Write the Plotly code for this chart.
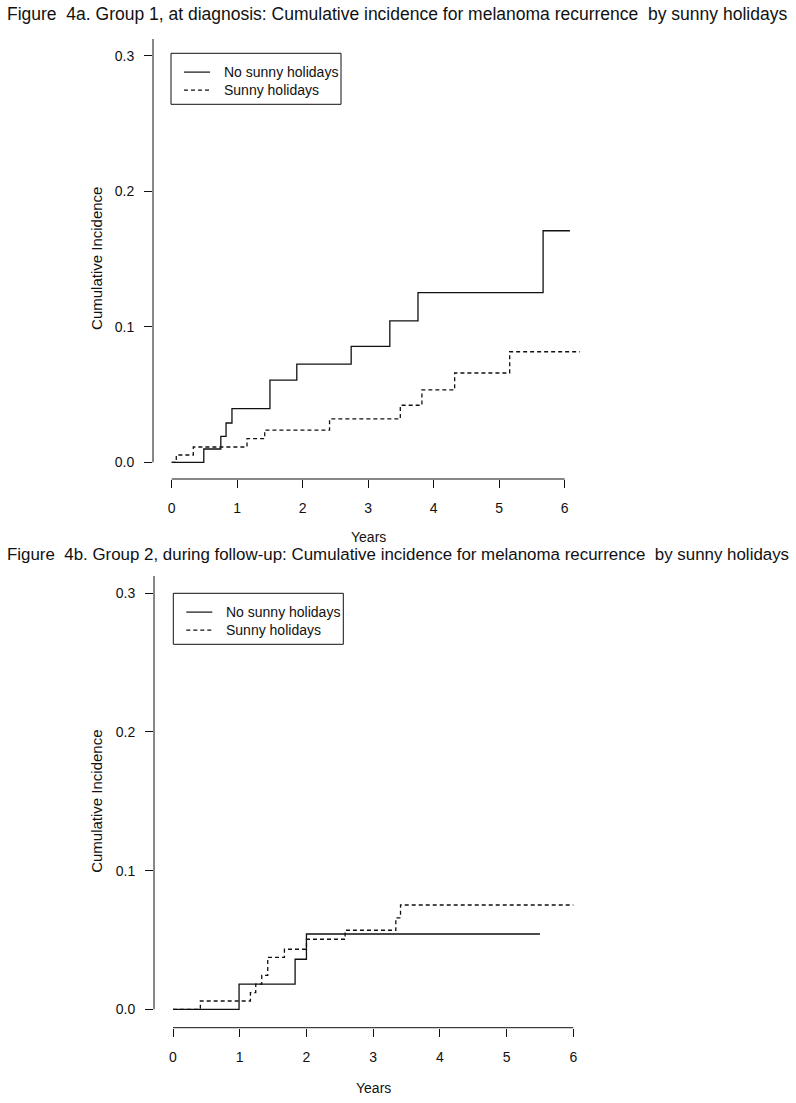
import plotly.graph_objects as go

# ---------------- data ----------------
years_ticks = [0, 1, 2, 3, 4, 5, 6]
ci_ticks = [0.0, 0.1, 0.2, 0.3]
ci_tick_labels = ["0.0", "0.1", "0.2", "0.3"]

series_names = ["No sunny holidays", "Sunny holidays"]
series_dash = ["solid", "4px,3px"]

# Figure 4a (Group 1, at diagnosis)
a_no_t = [0, 0.49, 0.75, 0.83, 0.92, 1.50, 1.91, 2.74, 3.33, 3.76, 5.67, 6.08]
a_no_v = [0, 0.0098, 0.0192, 0.0290, 0.0396, 0.0607, 0.0725, 0.0856, 0.1043, 0.1252, 0.1709, 0.1709]
a_sun_t = [0, 0.07, 0.33, 1.15, 1.42, 2.41, 3.49, 3.82, 4.32, 5.16, 6.23]
a_sun_v = [0, 0.0054, 0.0113, 0.0174, 0.0238, 0.0320, 0.0421, 0.0534, 0.0659, 0.0816, 0.0816]

# Figure 4b (Group 2, during follow-up)
b_no_t = [0, 0.99, 1.83, 2.00, 5.50]
b_no_v = [0, 0.0182, 0.0361, 0.0543, 0.0543]
b_sun_t = [0, 0.41, 1.16, 1.24, 1.33, 1.42, 1.67, 2.00, 2.58, 3.34, 3.41, 6.00]
b_sun_v = [0, 0.0060, 0.0120, 0.0182, 0.0245, 0.0375, 0.0433, 0.0505, 0.0570, 0.0660, 0.0752, 0.0752]

titles = [
    "Figure  4a. Group 1, at diagnosis: Cumulative incidence for melanoma recurrence  by sunny holidays",
    "Figure  4b. Group 2, during follow-up: Cumulative incidence for melanoma recurrence  by sunny holidays",
]
x_title = "Years"
y_title = "Cumulative Incidence"

# ---------------- layout helpers ----------------
W, H = 796, 1103
FONT = "Liberation Sans, Arial, sans-serif"
INK = "#111111"


def px_x(p):
    return p / W


def px_y(p):
    return 1 - p / H


def xrange_from(px0, px1, origin, scale):
    return [(px0 - origin) / scale, (px1 - origin) / scale]


def yrange_from(top_px, bot_px, origin, scale):
    return [(origin - bot_px) / scale, (origin - top_px) / scale]


panels = [
    dict(xdom=(153, 596), ydom=(38.9, 479.0), x0=171.7, xs=65.5, y0=462.3, ys=1355.0,
         title_y=14, title_size=17.5, xlab_off=58, legend=(171, 53.3)),
    dict(xdom=(154, 600), ydom=(576.0, 1027.7), x0=173.0, xs=66.72, y0=1009.3, ys=1386.7,
         title_y=554, title_size=16.9, xlab_off=60, legend=(173.3, 593.3)),
]

data_sets = [
    [(a_no_t, a_no_v), (a_sun_t, a_sun_v)],
    [(b_no_t, b_no_v), (b_sun_t, b_sun_v)],
]

LEG_W, LEG_H = 170, 51
LEG_ROWS = [18.8, 36.8]
LEG_LINE = (13, 39)
LEG_TEXT = 51

fig = go.Figure()
layout = dict(
    width=W, height=H, margin=dict(l=0, r=0, t=0, b=0),
    paper_bgcolor="white", plot_bgcolor="white", showlegend=False,
    font=dict(family=FONT, size=14, color=INK),
    annotations=[], shapes=[],
)

for i, (pan, ds) in enumerate(zip(panels, data_sets)):
    k = "" if i == 0 else str(i + 1)
    xa, ya = "x" + k, "y" + k
    for j, (t, v) in enumerate(ds):
        fig.add_trace(go.Scatter(
            x=t, y=v, mode="lines", line_shape="hv", name=series_names[j],
            line=dict(color=INK, width=1.3, dash=series_dash[j]),
            xaxis=xa, yaxis=ya,
        ))
    layout["xaxis" + k] = dict(
        domain=[px_x(pan["xdom"][0]), px_x(pan["xdom"][1])],
        range=xrange_from(pan["xdom"][0], pan["xdom"][1], pan["x0"], pan["xs"]),
        anchor=ya, tickmode="array", tickvals=years_ticks,
        ticktext=[str(v) for v in years_ticks],
        ticks="outside", ticklen=8, tickwidth=1, tickcolor=INK,
        showline=False, showgrid=False, zeroline=False,
        tickfont=dict(size=14, color=INK), ticklabelstandoff=8,
    )
    layout["yaxis" + k] = dict(
        domain=[px_y(pan["ydom"][1]), px_y(pan["ydom"][0])],
        range=yrange_from(pan["ydom"][0], pan["ydom"][1], pan["y0"], pan["ys"]),
        anchor=xa, tickmode="array", tickvals=ci_ticks, ticktext=ci_tick_labels,
        ticks="outside", ticklen=8, tickwidth=1, tickcolor=INK,
        showline=False, showgrid=False, zeroline=False,
        tickfont=dict(size=14, color=INK), ticklabelstandoff=7,
    )
    # R-style detached axis lines
    layout["shapes"].append(dict(
        type="line", xref=xa + " domain", yref=ya, x0=0, x1=0,
        y0=ci_ticks[0], y1=layout["yaxis" + k]["range"][1],
        line=dict(color=INK, width=1)))
    layout["shapes"].append(dict(
        type="line", xref=xa, yref=ya + " domain", x0=years_ticks[0], x1=years_ticks[-1],
        y0=0, y1=0, line=dict(color=INK, width=1)))
    # titles
    layout["annotations"].append(dict(
        text=titles[i], xref="paper", yref="paper", x=px_x(5), y=px_y(pan["title_y"]),
        xanchor="left", yanchor="middle", showarrow=False,
        font=dict(size=pan["title_size"], color=INK, family=FONT)))
    # axis titles
    layout["annotations"].append(dict(
        text=x_title, xref=xa, yref="paper", x=3.0, y=px_y(pan["ydom"][1] + pan["xlab_off"]),
        xanchor="center", yanchor="middle", showarrow=False, font=dict(size=14)))
    layout["annotations"].append(dict(
        text=y_title, xref="paper", yref=ya + " domain", x=px_x(97), y=0.5,
        xanchor="center", yanchor="middle", textangle=-90, showarrow=False,
        font=dict(size=15)))
    # legend box (R-style)
    lx, ly = pan["legend"]
    layout["shapes"].append(dict(
        type="rect", xref="paper", yref="paper",
        x0=px_x(lx), x1=px_x(lx + LEG_W), y0=px_y(ly + LEG_H), y1=px_y(ly),
        line=dict(color=INK, width=1), fillcolor="white"))
    for j, name in enumerate(series_names):
        ry = ly + LEG_ROWS[j]
        layout["shapes"].append(dict(
            type="line", xref="paper", yref="paper",
            x0=px_x(lx + LEG_LINE[0]), x1=px_x(lx + LEG_LINE[1]), y0=px_y(ry), y1=px_y(ry),
            line=dict(color=INK, width=1.2, dash=series_dash[j])))
        layout["annotations"].append(dict(
            text=name, xref="paper", yref="paper", x=px_x(lx + LEG_TEXT), y=px_y(ry),
            xanchor="left", yanchor="middle", showarrow=False, font=dict(size=14)))

fig.update_layout(**layout)

fig.write_html(
    "out.html",
    config={"displayModeBar": False},
    post_script="document.body.style.margin='0';document.body.style.overflow='hidden';",
)
